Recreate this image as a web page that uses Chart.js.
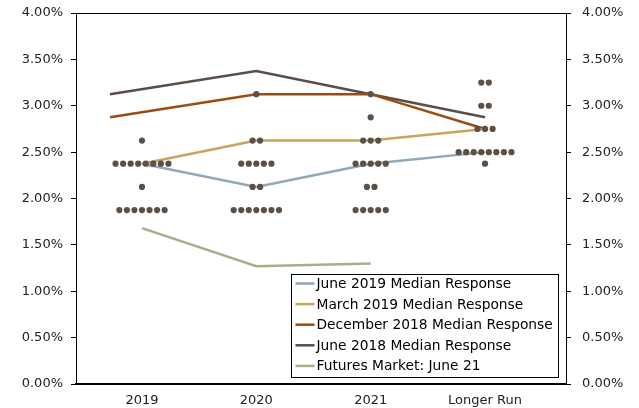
<!DOCTYPE html>
<html>
<head>
<meta charset="utf-8">
<script src="https://cdn.jsdelivr.net/npm/chart.js@4"></script>
<style>
  html, body { margin: 0; padding: 0; background: #fff; }
  #wrap { width: 639px; height: 408px; }
</style>
</head>
<body>
<div id="wrap"><canvas id="dotChart" width="639" height="408"></canvas></div>
<script>
const categories = ["2019", "2020", "2021", "Longer Run"];

// median responses per category
const june2019 = [2.375, 2.125, 2.375, 2.5];
const march2019 = [2.375, 2.625, 2.625, 2.75];
const dec2018 = [2.875, 3.125, 3.125, 2.75];
const june2018 = [3.125, 3.375, 3.125, 2.875];
const futures = [1.68, 1.27, 1.30, null];

// dot plot: [rate, number of participants]
const dots2019 = [[2.625, 1], [2.375, 8], [2.125, 1], [1.875, 7]];
const dots2020 = [[3.125, 1], [2.625, 2], [2.375, 5], [2.125, 2], [1.875, 7]];
const dots2021 = [[3.125, 1], [2.875, 1], [2.625, 3], [2.375, 5], [2.125, 2], [1.875, 5]];
const dotsLonger = [[3.25, 2], [3.0, 2], [2.75, 3], [2.5, 8], [2.375, 1]];

const yTicks = [0, 0.5, 1, 1.5, 2, 2.5, 3, 3.5, 4];

const dotStep = 0.066;
function dotPoints() {
  const pts = [];
  [dots2019, dots2020, dots2021, dotsLonger].forEach((rows, i) => {
    rows.forEach(([rate, n]) => {
      for (let k = 0; k < n; k++) {
        pts.push({ x: i + (k - (n - 1) / 2) * dotStep, y: rate });
      }
    });
  });
  return pts;
}

// lead: how far left of the first category the older series start
function toXY(arr, lead) {
  return arr.map((v, i) => ({ x: i === 0 ? -lead : i, y: v }));
}

function lineSet(label, arr, color, lead = 0) {
  return {
    type: "line",
    label: label,
    data: toXY(arr, lead),
    borderColor: color,
    backgroundColor: color,
    borderWidth: 2.5,
    pointRadius: 0,
    tension: 0,
    order: 1
  };
}

const font = { family: "'DejaVu Sans', Verdana, sans-serif", size: 13 };
const legendFont = "13.8px 'DejaVu Sans', Verdana, sans-serif";

// top border + legend box inside the plot
const framePlugin = {
  id: "frame",
  afterDraw(chart) {
    const { ctx, chartArea: a } = chart;
    ctx.save();
    ctx.strokeStyle = "#000";
    ctx.lineWidth = 1;
    ctx.beginPath();
    ctx.moveTo(a.left, Math.round(a.top) + 0.5);
    ctx.lineTo(a.right, Math.round(a.top) + 0.5);
    ctx.stroke();

    const items = chart.data.datasets.filter(d => d.type === "line");
    const bw = 267, bh = 103;
    const bx = Math.round(a.right - 8 - bw) + 0.5;
    const by = Math.round(a.bottom - 7 - bh) + 0.5;
    ctx.fillStyle = "#fff";
    ctx.fillRect(bx, by, bw, bh);
    ctx.strokeStyle = "#000";
    ctx.strokeRect(bx, by, bw, bh);
    ctx.font = legendFont;
    ctx.textBaseline = "middle";
    items.forEach((d, i) => {
      const y = by + 9 + i * 20.6;
      ctx.strokeStyle = d.borderColor;
      ctx.lineWidth = 2.5;
      ctx.beginPath();
      ctx.moveTo(bx + 4, y);
      ctx.lineTo(bx + 23, y);
      ctx.stroke();
      ctx.fillStyle = "#000";
      ctx.fillText(d.label, bx + 25, y + 1);
    });
    ctx.restore();
  }
};

function fitY(width) {
  return axis => {
    axis.width = width;
    axis.paddingTop = 0;
    axis.paddingBottom = 0;
  };
}

new Chart(document.getElementById("dotChart"), {
  data: {
    datasets: [
      {
        type: "scatter",
        label: "June 2019 dots",
        data: dotPoints(),
        pointRadius: 3.1,
        pointBorderWidth: 0,
        pointBackgroundColor: "#5c4f45",
        order: 0
      },
      lineSet("June 2019 Median Response", june2019, "#8fa9bb"),
      lineSet("March 2019 Median Response", march2019, "#c9a45f"),
      lineSet("December 2018 Median Response", dec2018, "#9c4c0f", 0.28),
      lineSet("June 2018 Median Response", june2018, "#5a4d46", 0.28),
      lineSet("Futures Market: June 21", futures, "#a3b186")
    ]
  },
  options: {
    responsive: false,
    animation: false,
    layout: { padding: { top: 13, left: 0, right: 0, bottom: 0 } },
    plugins: {
      legend: { display: false },
      tooltip: { enabled: false }
    },
    scales: {
      x: {
        type: "linear",
        min: -0.577,
        max: 3.708,
        afterBuildTicks: axis => { axis.ticks = categories.map((c, i) => ({ value: i })); },
        afterFit: axis => { axis.height = 24; axis.paddingLeft = 0; axis.paddingRight = 0; },
        ticks: {
          callback: v => categories[v],
          color: "#222",
          font: font,
          padding: 9,
          maxRotation: 0
        },
        grid: { display: false, drawTicks: false },
        border: { display: true, color: "#000", width: 2 }
      },
      y: {
        position: "left",
        min: 0,
        max: 4,
        afterBuildTicks: axis => { axis.ticks = yTicks.map(v => ({ value: v })); },
        afterFit: fitY(76),
        ticks: {
          callback: v => v.toFixed(2) + "%",
          color: "#222",
          font: font,
          padding: 8
        },
        grid: { drawOnChartArea: false, drawTicks: true, tickLength: 5, color: "#000" },
        border: { display: true, color: "#000", width: 1 }
      },
      y2: {
        position: "right",
        min: 0,
        max: 4,
        afterBuildTicks: axis => { axis.ticks = yTicks.map(v => ({ value: v })); },
        afterFit: fitY(73),
        ticks: {
          callback: v => v.toFixed(2) + "%",
          color: "#222",
          font: font,
          padding: 11
        },
        grid: { drawOnChartArea: false, drawTicks: true, tickLength: 5, color: "#000" },
        border: { display: true, color: "#000", width: 1 }
      }
    }
  },
  plugins: [framePlugin]
});
</script>
</body>
</html>
